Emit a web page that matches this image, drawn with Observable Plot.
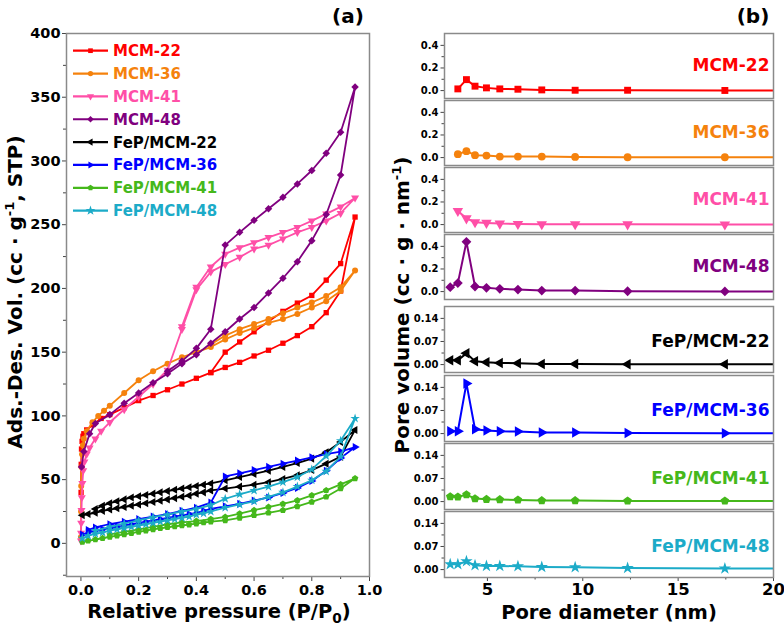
<!DOCTYPE html>
<html>
<head>
<meta charset="utf-8">
<script src="https://cdn.jsdelivr.net/npm/d3@7"></script>
<script src="https://cdn.jsdelivr.net/npm/@observablehq/plot@0.6"></script>
<style>
  body { margin: 0; background: #fff; }
  #fig { position: relative; width: 784px; height: 630px; overflow: hidden; background: #fff;
         font-family: "DejaVu Sans", sans-serif; font-weight: bold; }
  #fig svg { overflow: visible; }
</style>
</head>
<body>
<div id="fig"></div>
<script>
// ---------- (a) N2 adsorption–desorption isotherms ----------
const seriesNames  = ["MCM-22", "MCM-36", "MCM-41", "MCM-48", "FeP/MCM-22", "FeP/MCM-36", "FeP/MCM-41", "FeP/MCM-48"];
const seriesColors = ["#ff0000", "#f5820d", "#ff4fa7", "#80007f", "#000000", "#0000ff", "#45b81b", "#1cabc8"];

const mcm22AdsP = [0.0005, 0.001, 0.002, 0.004, 0.007, 0.01, 0.02, 0.04, 0.07, 0.1, 0.15, 0.2, 0.25, 0.3, 0.35, 0.4, 0.45, 0.5, 0.55, 0.6, 0.65, 0.7, 0.75, 0.8, 0.85, 0.9, 0.95];
const mcm22AdsV = [40, 62, 74, 80, 84, 86, 89, 93, 98, 101, 106.5, 112, 116, 120.5, 125, 129.5, 134, 138, 142, 147, 151.5, 157, 163, 170, 181, 198, 256];
const mcm22DesP = [0.9, 0.85, 0.8, 0.75, 0.7, 0.65, 0.6, 0.55, 0.5, 0.45];
const mcm22DesV = [219.5, 206.5, 194.5, 188.5, 182, 174, 166, 158, 150, 134];

const mcm36AdsP = [0.0002, 0.0005, 0.001, 0.002, 0.004, 0.007, 0.01, 0.02, 0.04, 0.06, 0.08, 0.1, 0.15, 0.2, 0.25, 0.3, 0.35, 0.4, 0.45, 0.5, 0.55, 0.6, 0.65, 0.7, 0.75, 0.8, 0.85, 0.9, 0.95];
const mcm36AdsV = [5, 25, 45, 60, 70, 77, 82, 88, 95, 100, 104, 108, 118, 128, 135, 141, 146, 150, 154, 160, 165, 169, 173, 176, 180, 185, 190, 198, 214];
const mcm36DesP = [0.9, 0.85, 0.8, 0.75, 0.7, 0.65, 0.6, 0.55, 0.5, 0.45];
const mcm36DesV = [201, 194, 189, 185, 180.5, 176, 172, 168, 163, 156];

const mcm41AdsP = [0.0002, 0.0005, 0.001, 0.002, 0.003, 0.005, 0.008, 0.012, 0.02, 0.03, 0.05, 0.07, 0.1, 0.15, 0.2, 0.25, 0.3, 0.35, 0.4, 0.45, 0.5, 0.55, 0.6, 0.65, 0.7, 0.75, 0.8, 0.85, 0.9, 0.95];
const mcm41AdsV = [2, 8, 16, 26, 36, 47, 57, 64, 70, 75, 82, 88, 95, 105, 115, 125, 136, 168, 199, 213, 219, 224.5, 231, 234, 239, 244, 248, 253, 259, 271];
const mcm41DesP = [0.9, 0.85, 0.8, 0.75, 0.7, 0.65, 0.6, 0.55, 0.5, 0.45, 0.4, 0.35];
const mcm41DesV = [264, 258.5, 253, 248, 244, 240, 236, 232, 227, 217, 201, 170];

const mcm48AdsP = [0.002, 0.01, 0.03, 0.05, 0.1, 0.15, 0.2, 0.25, 0.3, 0.35, 0.4, 0.45, 0.5, 0.55, 0.6, 0.65, 0.7, 0.75, 0.8, 0.85, 0.9, 0.95];
const mcm48AdsV = [60, 72, 86, 94, 101, 110, 118, 126, 133, 141, 148, 157, 166, 176, 185, 196.5, 208, 221, 237.5, 258, 289, 358];
const mcm48DesP = [0.9, 0.85, 0.8, 0.75, 0.7, 0.65, 0.6, 0.55, 0.5, 0.45, 0.4, 0.35, 0.3];
const mcm48DesV = [322.5, 306, 292.5, 282, 271.5, 262.5, 253.5, 244, 234, 168, 153, 143, 135];

const fep22AdsP = [0.005, 0.025, 0.05, 0.075, 0.1, 0.125, 0.15, 0.175, 0.2, 0.225, 0.25, 0.275, 0.3, 0.325, 0.35, 0.375, 0.4, 0.425, 0.45, 0.5, 0.55, 0.6, 0.65, 0.7, 0.75, 0.8, 0.85, 0.9, 0.95];
const fep22AdsV = [22, 23, 24, 25.5, 26.5, 27.5, 28.5, 29.5, 30.5, 31.5, 32.5, 33.5, 34.5, 35.5, 36.5, 37.5, 39, 40, 41.5, 43, 44.5, 46, 48, 50.5, 53.5, 57.5, 62.5, 68, 89];
const fep22DesP = [0.9, 0.85, 0.8, 0.75, 0.7, 0.65, 0.6, 0.55, 0.5, 0.45, 0.425, 0.4, 0.375, 0.35, 0.325, 0.3, 0.275, 0.25, 0.225, 0.2, 0.175, 0.15, 0.125, 0.1, 0.075, 0.05];
const fep22DesV = [79.5, 71.5, 66.5, 63, 60, 57, 54.5, 52, 49.5, 47, 46, 45, 44, 43, 42, 41, 40, 39, 38, 37, 36, 34.5, 33, 31.5, 29.5, 27];

const fep36AdsP = [0.005, 0.025, 0.05, 0.075, 0.1, 0.125, 0.15, 0.175, 0.2, 0.225, 0.25, 0.275, 0.3, 0.325, 0.35, 0.375, 0.4, 0.425, 0.45, 0.5, 0.55, 0.6, 0.65, 0.7, 0.75, 0.8, 0.85, 0.9, 0.95];
const fep36AdsV = [7, 8.5, 10, 11, 12, 13, 14, 15, 16, 17, 18, 19, 20, 21, 22, 23, 24, 25.5, 27, 29, 31, 33.5, 36, 39.5, 43.5, 49, 57, 67, 75.5];
const fep36DesP = [0.9, 0.85, 0.8, 0.75, 0.7, 0.65, 0.6, 0.55, 0.5, 0.45, 0.4, 0.35, 0.3, 0.25, 0.2, 0.15, 0.1, 0.05, 0.025];
const fep36DesV = [72, 70, 67.5, 65, 62.5, 60, 57.5, 55, 52.5, 32, 28, 25.5, 23, 21, 19, 17, 15, 12.5, 10.5];

const fep41AdsP = [0.005, 0.025, 0.05, 0.075, 0.1, 0.125, 0.15, 0.175, 0.2, 0.225, 0.25, 0.275, 0.3, 0.325, 0.35, 0.375, 0.4, 0.425, 0.45, 0.5, 0.55, 0.6, 0.65, 0.7, 0.75, 0.8, 0.85, 0.9, 0.95];
const fep41AdsV = [1, 2, 3, 4, 5, 6, 7, 8, 9, 10, 11, 11.8, 12.6, 13.3, 14, 14.7, 15.5, 16.3, 17, 18, 20, 22, 24, 26, 29, 32.5, 36.5, 43, 51];
const fep41DesP = [0.9, 0.85, 0.8, 0.75, 0.7, 0.65, 0.6, 0.55, 0.5, 0.45, 0.4, 0.35, 0.3, 0.25, 0.2, 0.15, 0.1];
const fep41DesV = [46.3, 41.6, 37.6, 33.7, 31, 28.5, 26, 23.3, 20.7, 19, 17.5, 16.5, 15, 13, 11, 9, 7];

const fep48AdsP = [0.005, 0.025, 0.05, 0.075, 0.1, 0.125, 0.15, 0.175, 0.2, 0.225, 0.25, 0.275, 0.3, 0.325, 0.35, 0.375, 0.4, 0.425, 0.45, 0.5, 0.55, 0.6, 0.65, 0.7, 0.75, 0.8, 0.85, 0.9, 0.95];
const fep48AdsV = [4, 6, 7.5, 8.5, 10, 11, 12, 13, 14, 15, 16, 17, 18, 19, 20, 21, 22.5, 23.5, 25, 28, 30.5, 33, 36.5, 40, 44.5, 49.5, 56.5, 68, 98];
const fep48DesP = [0.9, 0.85, 0.8, 0.75, 0.7, 0.65, 0.6, 0.55, 0.5, 0.45, 0.4, 0.35, 0.3, 0.25, 0.2, 0.15, 0.1, 0.05];
const fep48DesV = [80.5, 68.5, 58, 52, 48, 44.5, 41.5, 38.5, 35, 30, 27, 25, 22.5, 20.5, 18, 15.5, 13, 10];

const pressureTicks = [0, 0.2, 0.4, 0.6, 0.8, 1.0];
const pressureMinor = [0.1, 0.3, 0.5, 0.7, 0.9];
const volumeTicks = [0, 50, 100, 150, 200, 250, 300, 350, 400];
const volumeMinor = [-25, 25, 75, 125, 175, 225, 275, 325, 375];

// ---------- (b) BJH pore-size distributions ----------
const poreDiameter = [3.05, 3.45, 3.9, 4.35, 4.95, 5.65, 6.6, 7.85, 9.6, 12.35, 17.45, 24.0];
const pvMCM22 = [null, 0.015, 0.097, 0.039, 0.024, 0.015, 0.012, 0.006, 0.003, 0.003, 0.001, 0.0];
const pvMCM36 = [null, 0.030, 0.057, 0.021, 0.018, 0.009, 0.009, 0.009, 0.006, 0.003, 0.003, 0.002];
const pvMCM41 = [null, 0.120, 0.055, 0.021, 0.015, 0.009, 0.006, 0.003, 0.003, 0.002, 0.001, 0.0];
const pvMCM48 = [0.039, 0.075, 0.440, 0.045, 0.033, 0.024, 0.018, 0.009, 0.009, 0.003, 0.001, 0.0];
const pvFeP22 = [0.013, 0.013, 0.034, 0.010, 0.007, 0.005, 0.004, 0.002, 0.002, 0.001, 0.001, 0.001];
const pvFeP36 = [0.007, 0.007, 0.152, 0.013, 0.009, 0.007, 0.006, 0.003, 0.003, 0.002, 0.001, 0.001];
const pvFeP41 = [0.015, 0.014, 0.021, 0.009, 0.007, 0.006, 0.005, 0.003, 0.003, 0.002, 0.002, 0.001];
const pvFeP48 = [0.016, 0.016, 0.025, 0.013, 0.011, 0.011, 0.010, 0.008, 0.007, 0.005, 0.003, 0.003];

const bareTicks = [0, 0.2, 0.4];
const bareMinor = [0.1, 0.3];
const loadedTicks = [0, 0.07, 0.14];
const loadedMinor = [0.035, 0.105];
const diameterTicks = [5, 10, 15, 20];
const diameterMinor = [7.5, 12.5, 17.5];

// ---------- marker shapes ----------
function regular(n, rot) {
  const k = (n / 2) * Math.sin(2 * Math.PI / n);
  return {
    draw(ctx, size) {
      const R = Math.sqrt(size / k);
      for (let i = 0; i < n; i++) {
        const a = rot + i * 2 * Math.PI / n;
        const x = R * Math.cos(a), y = R * Math.sin(a);
        if (i) ctx.lineTo(x, y); else ctx.moveTo(x, y);
      }
      ctx.closePath();
    }
  };
}
const seriesSymbols = [
  d3.symbolSquare, d3.symbolCircle, regular(3, Math.PI / 2), regular(4, -Math.PI / 2),
  regular(3, Math.PI), regular(3, 0), regular(5, -Math.PI / 2), d3.symbolStar
];

const fig = document.getElementById("fig");
const FONT = "DejaVu Sans";

function addText(html, cx, cy, size, rot = 0, color = "#000", scaleAlong = 1) {
  const d = document.createElement("div");
  d.innerHTML = html;
  Object.assign(d.style, {
    position: "absolute", left: cx + "px", top: cy + "px",
    transform: `translate(-50%, -50%) rotate(${rot}deg) scaleX(${scaleAlong})`,
    fontSize: size + "px", fontWeight: "bold", fontFamily: FONT,
    whiteSpace: "nowrap", lineHeight: "1", color
  });
  fig.appendChild(d);
}
function place(svg, left, top) {
  svg.style.position = "absolute";
  svg.style.left = left + "px";
  svg.style.top = top + "px";
  fig.appendChild(svg);
}

// ---------- panel (a) ----------
const isotherms = [
  [mcm22AdsP, mcm22AdsV, mcm22DesP, mcm22DesV],
  [mcm36AdsP, mcm36AdsV, mcm36DesP, mcm36DesV],
  [mcm41AdsP, mcm41AdsV, mcm41DesP, mcm41DesV],
  [mcm48AdsP, mcm48AdsV, mcm48DesP, mcm48DesV],
  [fep22AdsP, fep22AdsV, fep22DesP, fep22DesV],
  [fep36AdsP, fep36AdsV, fep36DesP, fep36DesV],
  [fep41AdsP, fep41AdsV, fep41DesP, fep41DesV],
  [fep48AdsP, fep48AdsV, fep48DesP, fep48DesV]
].map(([aP, aV, dP, dV], i) => ({
  i,
  rows: [...aP.map((p, j) => ({p, v: aV[j]})), ...dP.map((p, j) => ({p, v: dV[j]}))]
}));

const isoMarks = isotherms.flatMap(({i, rows}) => [
  Plot.line(rows, {x: "p", y: "v", stroke: seriesColors[i], strokeWidth: 1.8, clip: true}),
  Plot.dot(rows, {x: "p", y: "v", symbol: seriesSymbols[i], r: 3, fill: seriesColors[i], stroke: "none", clip: true})
]);

const plotA = Plot.plot({
  width: 380, height: 630,
  marginLeft: 66, marginRight: 11, marginTop: 33, marginBottom: 54,
  style: {fontFamily: FONT, fontWeight: "bold", fontSize: "14.5px", color: "#000", background: "transparent", overflow: "visible"},
  x: {domain: [-0.05, 1.0]},
  y: {domain: [-26, 400]},
  marks: [
    Plot.axisX({ticks: pressureMinor, tickSize: 3, tickFormat: () => "", label: null, stroke: "#444"}),
    Plot.axisX({ticks: pressureTicks, tickSize: 5, tickPadding: 3, tickFormat: d3.format(".1f"), label: null, stroke: "#444"}),
    Plot.axisY({ticks: volumeMinor.filter(d => d > -26), tickSize: 3, tickFormat: () => "", label: null, stroke: "#444"}),
    Plot.axisY({ticks: volumeTicks, tickSize: 4, tickPadding: 2, tickFormat: d => String(d), label: null, stroke: "#444"}),
    ...isoMarks,
    Plot.frame({stroke: "#8a8a8a", strokeWidth: 1.5})
  ]
});
place(plotA, 0, 0);

// legend inside panel (a)
{
  const svg = d3.select(plotA);
  const g = svg.append("g").attr("text-anchor", "start");
  seriesNames.forEach((name, i) => {
    const cy = 50.7 + i * 22.85;
    g.append("line").attr("x1", 73).attr("x2", 108).attr("y1", cy).attr("y2", cy)
      .attr("stroke", seriesColors[i]).attr("stroke-width", 2.2);
    g.append("path").attr("transform", `translate(90.5,${cy})`)
      .attr("d", d3.symbol().type(seriesSymbols[i]).size(i === 7 ? 30 : 22)())
      .attr("fill", seriesColors[i]);
    g.append("text").attr("x", 113).attr("y", cy + 5.5).attr("text-anchor", "start")
      .attr("fill", seriesColors[i]).attr("font-size", 15).attr("font-weight", "bold")
      .attr("font-family", FONT).text(name);
  });
}

// ---------- panel (b) ----------
const distributions = [pvMCM22, pvMCM36, pvMCM41, pvMCM48, pvFeP22, pvFeP36, pvFeP41, pvFeP48];
const frameTops = [33, 100, 167, 234, 306, 375, 443, 511];

distributions.forEach((values, i) => {
  const bare = i < 4;
  const frameH = bare ? 65 : 66;
  const last = i === 7;
  const mt = 6, mb = last ? 62 : 6;
  const rows = poreDiameter.map((d, j) => ({d, pv: values[j]})).filter(r => r.pv != null);
  const marks = [
    Plot.axisY({ticks: bare ? bareMinor : loadedMinor, tickSize: 2.5, tickFormat: () => "", label: null, stroke: "#444"}),
    Plot.axisY({ticks: bare ? bareTicks : loadedTicks, tickSize: 3.5, tickPadding: 2.5,
                tickFormat: bare ? d3.format(".1f") : d3.format(".2f"), label: null, stroke: "#444", fontSize: 10}),
    Plot.line(rows, {x: "d", y: "pv", stroke: seriesColors[i], strokeWidth: 2, clip: true}),
    Plot.dot(rows, {x: "d", y: "pv", symbol: seriesSymbols[i], r: 3.9, fill: seriesColors[i], stroke: "none", clip: true}),
    Plot.text([seriesNames[i]], {frameAnchor: "right", dx: -4, dy: bare ? 0 : 2, fill: seriesColors[i],
                                fontSize: 17, fontWeight: "bold", textAnchor: "end"}),
    Plot.frame({stroke: "#8a8a8a", strokeWidth: 1.5})
  ];
  if (last) {
    marks.unshift(
      Plot.axisX({ticks: diameterMinor, tickSize: 2.5, tickFormat: () => "", label: null, stroke: "#444"}),
      Plot.axisX({ticks: diameterTicks, tickSize: 4, tickPadding: 2, tickFormat: d => String(d), label: null, stroke: "#444", fontSize: 16.5})
    );
  }
  const p = Plot.plot({
    width: 394, height: frameH + mt + mb,
    marginLeft: 54, marginRight: 11, marginTop: mt, marginBottom: mb,
    style: {fontFamily: FONT, fontWeight: "bold", fontSize: "10px", color: "#000", background: "transparent", overflow: "visible"},
    x: {domain: [2.75, 20], axis: last ? undefined : null},
    y: {domain: bare ? [-0.07, 0.505] : [-0.024, 0.176]},
    marks
  });
  place(p, 390, frameTops[i] - mt);
});

// ---------- titles ----------
addText("(a)", 348, 16, 20);
addText("(b)", 753, 16, 20);
addText("Relative pressure (P/P<sub style=\"font-size:0.7em\">0</sub>)", 219, 614, 19.5);
addText("Ads.-Des. Vol. (cc · g<sup style=\"font-size:0.65em\">-1</sup>, STP)", 14, 292, 20, -90);
addText("Pore diameter (nm)", 609, 613, 19.5);
addText("Pore volume (cc · g · nm<sup style=\"font-size:0.65em\">-1</sup>)", 401, 305, 20, -90);
</script>
</body>
</html>
